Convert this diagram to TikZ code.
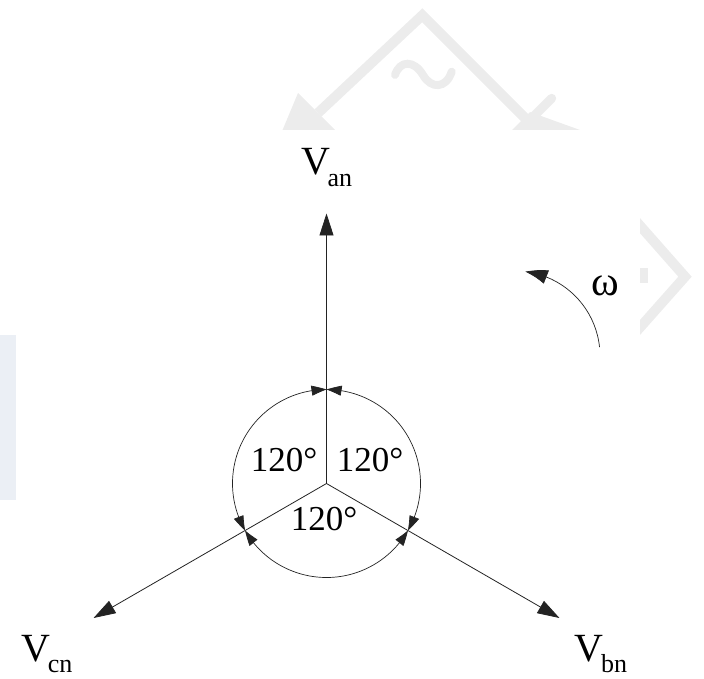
\documentclass[tikz,border=0pt]{standalone}
\usepackage{fontspec}
\setmainfont{Liberation Serif}
\usetikzlibrary{arrows.meta,bending}
\definecolor{wm}{RGB}{236,236,236}
\definecolor{wmblue}{RGB}{235,239,245}
\definecolor{ink}{RGB}{35,35,35}
\newcommand{\phlab}[1]{{\fontsize{40}{40}\selectfont V}\kern-2.5pt\raisebox{-11.5pt}{\fontsize{26}{26}\selectfont #1}}
\begin{document}
\begin{tikzpicture}[x=1pt,y=1pt,
  vec/.style={draw=ink, line width=0.8pt, -{Triangle[length=22pt,width=14pt]}},
  arcarr/.style={draw=ink, line width=0.7pt, {Triangle[length=15pt,width=10pt,bend]}-{Triangle[length=15pt,width=10pt,bend]}},
  rotarr/.style={draw=ink, line width=0.7pt, -{Triangle[length=22pt,width=14pt,bend]}},
  ang/.style={inner sep=0pt, font=\fontsize{35}{35}\selectfont},
  vlab/.style={inner sep=0pt, anchor=base west},
  wmline/.style={draw=wm, line width=10pt}
]
\useasboundingbox (0,0) rectangle (704,678);
% faint watermark behind the figure
\fill[wmblue] (0,178) rectangle (16,343);
\draw[wmline, line join=miter] (318,565) -- (422.3,662.7) -- (540,545);
\fill[wm] (298,585) -- (340,543) -- (270,518) -- cycle;
\draw[wm, line width=9pt, line cap=round] (551.7,579.7) -- (526.7,554.7);
\fill[wm] (508,544) -- (530,566) -- (580,548) -- cycle;
\draw[wm, line width=8pt, line cap=round] (395,603) .. controls (400,618) and (414,618) .. (423,603) .. controls (431,589) and (446,589) .. (451.7,606.3);
\draw[wmline, line join=miter] (620,475) -- (685,401.3) -- (620,328);
\fill[wm] (640,395) rectangle (648,410);
\fill[white] (16,0) rectangle (640,548);
% phasor diagram
\coordinate (O) at (326.5,194.5);
\path (O) ++(90:270) coordinate (A)
      (O) ++(-30:269) coordinate (B)
      (O) ++(210:269) coordinate (C);
\path (O) ++(90:94) coordinate (pa)
      (O) ++(-30:94) coordinate (pb)
      (O) ++(210:94) coordinate (pc);
\draw[vec] (O) -- (A);
\draw[vec] (O) -- (B);
\draw[vec] (O) -- (C);
\draw[arcarr] (pa) arc[start angle=90, end angle=210, radius=94];
\draw[arcarr] (pc) arc[start angle=210, end angle=330, radius=94];
\draw[arcarr] (pb) arc[start angle=-30, end angle=90, radius=94];
\coordinate (wc) at (515,322);
\path (wc) ++(6:85) coordinate (w0);
\draw[rotarr] (w0) arc[start angle=6, end angle=83, radius=85];
\node[ang] (l1) at (284,218) {120°};
\node[ang] (l2) at (370,218) {120°};
\node[ang] (l3) at (324,159) {120°};
\node[inner sep=0pt, font=\fontsize{42}{42}\selectfont] (w) at (605.5,392) {ω};
\node[vlab] (van) at (301,503) {\phlab{an}};
\node[vlab] (vbn) at (574.5,17) {\phlab{bn}};
\node[vlab] (vcn) at (21.2,17) {\phlab{cn}};
\end{tikzpicture}
\end{document}
